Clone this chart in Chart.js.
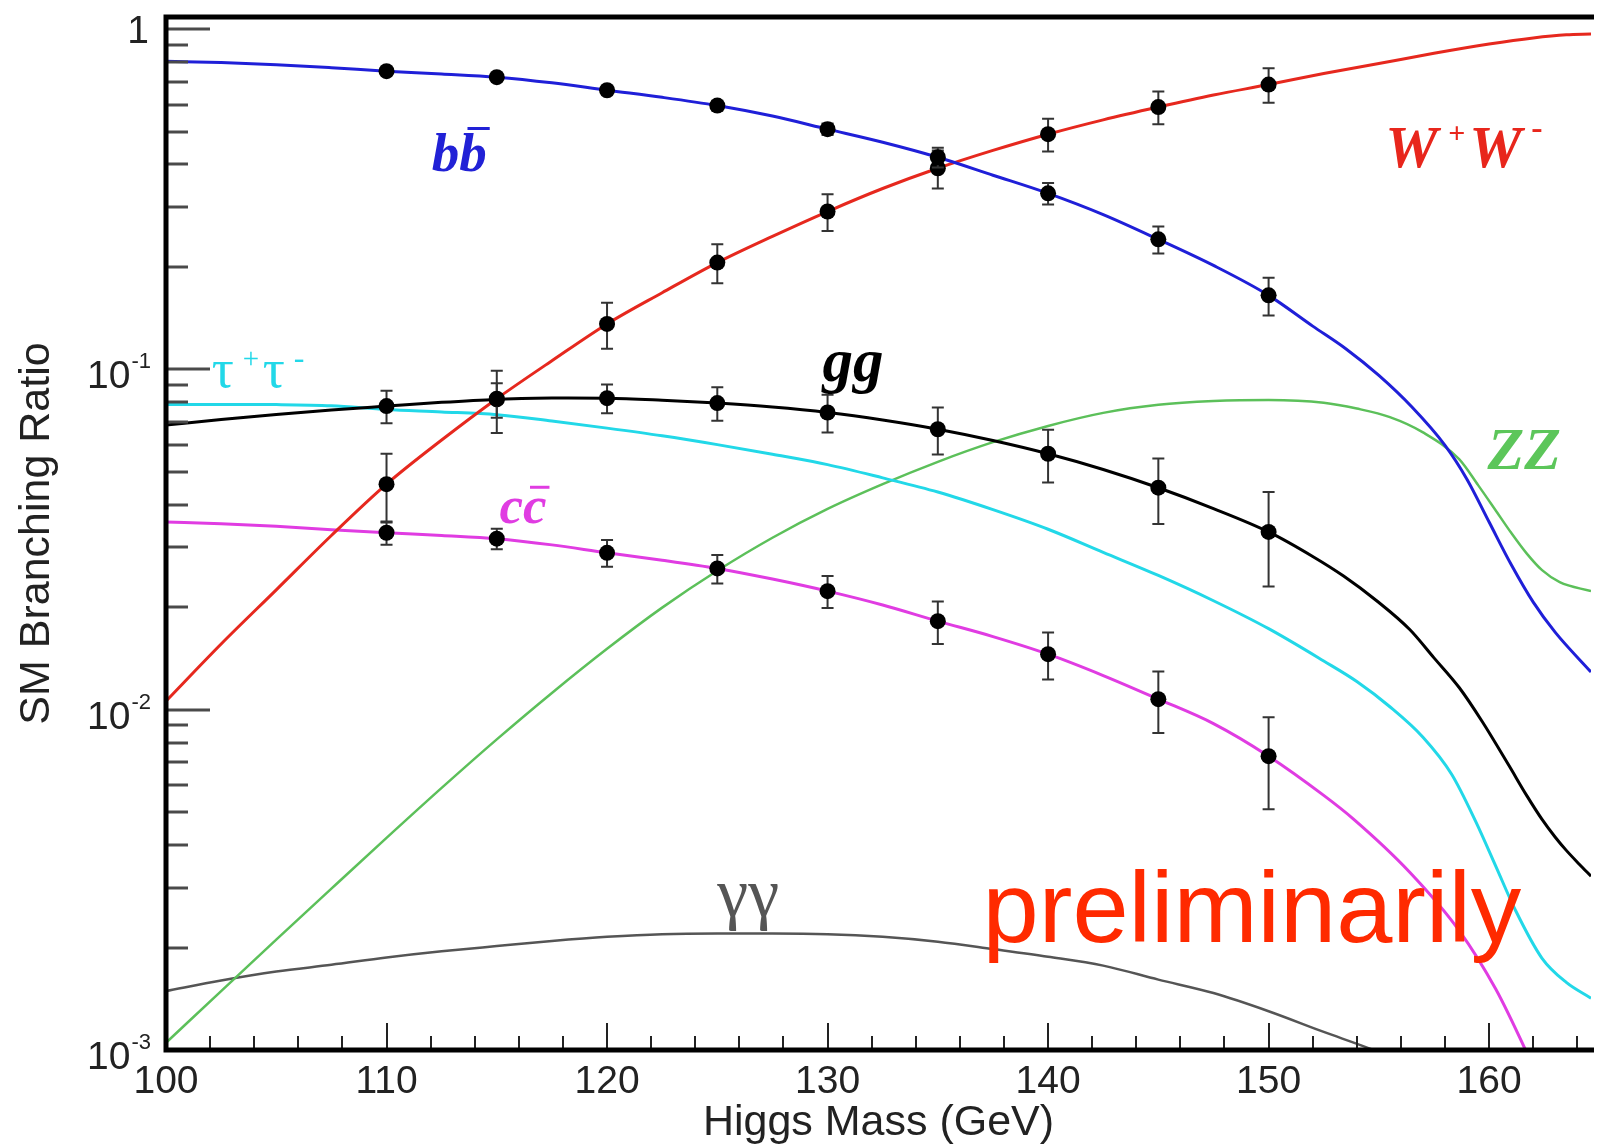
<!DOCTYPE html>
<html>
<head>
<meta charset="utf-8">
<script src="https://cdn.jsdelivr.net/npm/chart.js@4.4.1/dist/chart.umd.min.js"></script>
<style>
html,body{margin:0;padding:0;background:#fff;overflow:hidden;}
canvas{display:block;}
</style>
</head>
<body>
<canvas id="c" width="1599" height="1145"></canvas>
<script>
// ---------------- data ----------------
const xTickValues = [100, 110, 120, 130, 140, 150, 160];
const xTickLabels = ['100', '110', '120', '130', '140', '150', '160'];
const yTickValues = [1, 0.1, 0.01, 0.001];
const yTickBase   = ['1', '10', '10', '10'];
const yTickExp    = ['', '-1', '-2', '-3'];

// computed points with error bars
const pointMass = [110, 115, 120, 125, 130, 135, 140, 145, 150];
const bbPts  = [0.752, 0.722, 0.661, 0.596, 0.508, 0.420, 0.329, 0.241, 0.165];
const bbErr  = [0.015, 0.015, 0.018, 0.020, 0.020, 0.028, 0.024, 0.022, 0.021];
const wwPts  = [0.046, 0.082, 0.136, 0.206, 0.291, 0.390, 0.491, 0.590, 0.687];
const wwErr  = [0.0105, 0.017, 0.021, 0.027, 0.036, 0.050, 0.054, 0.065, 0.080];
const ggPts  = [0.078, 0.0816, 0.0823, 0.0796, 0.0747, 0.0667, 0.0565, 0.0449, 0.0333];
const ggErr  = [0.0085, 0.0095, 0.008, 0.009, 0.0095, 0.0105, 0.010, 0.0098, 0.0103];
const ccPts  = [0.0331, 0.0318, 0.0289, 0.026, 0.0223, 0.0182, 0.01456, 0.01074, 0.0073];
const ccErr  = [0.0026, 0.0022, 0.0026, 0.0025, 0.0024, 0.0026, 0.0023, 0.0022, 0.0022];

// theory curves
const bbMass = [100,102.5,105,107.5,110,112.5,115,117.5,120,122.5,125,127.5,130,132.5,135,137.5,140,142.5,145,147.5,150,152,153.5,155,156.5,158,159,160,161,162,163,164.62];
const bbBR   = [0.804,0.797,0.786,0.77,0.752,0.738,0.722,0.695,0.661,0.63,0.596,0.555,0.508,0.465,0.42,0.372,0.329,0.285,0.241,0.202,0.165,0.134,0.115,0.096,0.0775,0.0598,0.0475,0.0356,0.0267,0.0207,0.01687,0.0129];

const wwMass = [100,102.5,105,107.5,110,112.5,115,117.5,120,122.5,125,127.5,130,132.5,135,137.5,140,142.5,145,147.5,150,152.5,155,157.5,160,162,163.5,164.62];
const wwBR   = [0.0106,0.0156,0.0225,0.0325,0.046,0.062,0.082,0.106,0.136,0.168,0.206,0.246,0.291,0.34,0.39,0.44,0.491,0.541,0.590,0.64,0.687,0.74,0.792,0.849,0.904,0.942,0.962,0.967];

const ggMass = [100,102.5,105,107.5,110,112.5,115,117.5,120,122.5,125,127.5,130,132.5,135,137.5,140,142.5,145,147.5,150,152,153.4,154.9,156.4,157.5,158.65,159.7,160.9,161.7,162.4,163,163.5,164.1,164.62];
const ggBR   = [0.0686,0.0712,0.0737,0.076,0.078,0.08,0.0816,0.0824,0.0823,0.0812,0.0796,0.0775,0.0747,0.071,0.0667,0.0618,0.0565,0.0508,0.0449,0.039,0.0333,0.0282,0.0247,0.0209,0.0172,0.0142,0.0116,0.0092,0.00685,0.0056,0.00476,0.00422,0.00386,0.00351,0.00324];

const tauMass = [100,102.5,105,107.5,110,112.5,115,117.5,120,122.5,125,127.5,130,132.5,135,137.5,140,142.5,145,147.5,150,152.5,154,155.5,157,158.3,159.4,160.3,161.2,162.4,163.5,164.62];
const tauBR   = [0.0789,0.0789,0.0788,0.0782,0.0762,0.075,0.0736,0.0705,0.0672,0.0638,0.0601,0.0563,0.0525,0.048,0.0436,0.0387,0.0339,0.029,0.0248,0.0209,0.0173,0.0139,0.0121,0.0102,0.0083,0.00646,0.00468,0.00347,0.00257,0.00186,0.00158,0.00142];

const ccMass = [100,102.5,105,107.5,110,112.5,115,117.5,120,122.5,125,127.5,130,132.5,135,137.5,140,142.5,145,147.5,150,152.5,153.85,156.4,158.65,160.3,161.65,162.5];
const ccBR   = [0.0356,0.0352,0.0346,0.0338,0.0331,0.0325,0.0318,0.0305,0.0289,0.0275,0.026,0.0242,0.0223,0.0203,0.0182,0.0164,0.01456,0.0126,0.01074,0.0091,0.0073,0.0056,0.00477,0.00333,0.00224,0.00151,0.001,0.00075];

const zzMass = [100,102.5,105,107.5,110,112.5,115,117.5,120,122.5,125,127.5,130,132.5,135,137.5,140,142.5,145,147.5,150,152.5,154,155.5,157,158.65,159.5,160.3,161,161.7,162.4,163.2,164.62];
const zzBR   = [0.00105,0.00149,0.00211,0.00298,0.0042,0.00589,0.00818,0.0112,0.0151,0.01995,0.0256,0.032,0.0389,0.046,0.0535,0.0611,0.0682,0.0745,0.0787,0.0807,0.0813,0.0798,0.0767,0.0724,0.0653,0.0544,0.0457,0.0385,0.0331,0.0288,0.0257,0.0237,0.0223];

const gamMass = [100,102.5,105,107.5,110,112.5,115,117.5,120,122.5,125,127.5,130,132.5,135,137.5,140,142.5,145,147.5,150,152.5,154.75,156];
const gamBR   = [0.00149,0.0016,0.0017,0.00178,0.00187,0.00195,0.00202,0.00209,0.00215,0.00219,0.0022,0.0022,0.00219,0.00215,0.00208,0.00198,0.00188,0.00177,0.00161,0.00147,0.0013,0.00113,0.001,0.00092];

// ---------------- chart ----------------
const X_MIN = 100, X_MAX = 164.62, Y_MIN = 0.001, Y_MAX = 1.085;
const SANS = '"Liberation Sans", Arial, Helvetica, sans-serif';
const SERIF = '"Liberation Serif", "Times New Roman", serif';

const toXY = (xs, ys) => xs.map((x, i) => ({x: x, y: ys[i]}));
function curve(label, xs, ys, color, w) {
  return {label, data: toXY(xs, ys), showLine: true, borderColor: color, backgroundColor: color,
          borderWidth: w, pointRadius: 0, pointHoverRadius: 0, fill: false,
          cubicInterpolationMode: 'monotone'};
}
function markers(label, ys, errs) {
  return {label, data: toXY(pointMass, ys), errors: errs, showLine: false,
          pointRadius: 8, pointHoverRadius: 8, pointBackgroundColor: '#000',
          pointBorderColor: '#000', pointBorderWidth: 0};
}

// curve annotations (anchor in data coordinates: mass, BR at baseline)
const annotations = [
  {gev: 112.05, br: 0.384, color: '#2121d6', parts: [
    {t: 'b', font: 'italic bold 55px ' + SERIF},
    {t: 'b', font: 'italic bold 55px ' + SERIF, over: 42}]},
  {gev: 155.29, br: 0.392, color: '#e8261c', parts: [
    {t: 'W', font: 'italic bold 59px ' + SERIF, dx: 0},
    {t: '+', font: 'bold 30px ' + SERIF, dx: 63, dy: -24},
    {t: 'W', font: 'italic bold 59px ' + SERIF, dx: 84},
    {t: '-', font: 'bold 34px ' + SERIF, dx: 146, dy: -28}]},
  {gev: 102.07, br: 0.0886, color: '#22d8e8', parts: [
    {t: '\u03C4', font: '55px ' + SERIF, dx: 0},
    {t: '+', font: '29px ' + SERIF, dx: 31, dy: -19},
    {t: '\u03C4', font: '55px ' + SERIF, dx: 51},
    {t: '-', font: '32px ' + SERIF, dx: 82, dy: -19}]},
  {gev: 129.77, br: 0.0922, color: '#000000', parts: [
    {t: 'gg', font: 'italic bold 61px ' + SERIF}]},
  {gev: 115.12, br: 0.0353, color: '#e03ce2', parts: [
    {t: 'c', font: 'italic bold 53px ' + SERIF},
    {t: 'c', font: 'italic bold 53px ' + SERIF, over: 36}]},
  {gev: 159.93, br: 0.0509, color: '#5cc65a', parts: [
    {t: 'ZZ', font: 'italic bold 60px ' + SERIF}]},
  {gev: 125.0, br: 0.002475, color: '#555555', parts: [
    {t: '\u03B3\u03B3', font: '70px ' + SERIF}]},
  {gev: 137.03, br: 0.002076, color: '#ff2a00', parts: [
    {t: 'preliminarily', font: '101px ' + SANS}]}
];

const rootStyle = {
  id: 'rootStyle',
  beforeDatasetDraw(chart, args) {
    const ds = chart.data.datasets[args.index];
    if (!ds.errors) return;
    const {ctx} = chart; const xs = chart.scales.x, ys = chart.scales.y;
    ctx.save();
    ctx.strokeStyle = '#333'; ctx.lineWidth = 2;
    ds.data.forEach((p, i) => {
      const e = ds.errors[i];
      const px = xs.getPixelForValue(p.x);
      const y1 = ys.getPixelForValue(p.y + e), y2 = ys.getPixelForValue(p.y - e);
      ctx.beginPath();
      ctx.moveTo(px, y1); ctx.lineTo(px, y2);
      ctx.moveTo(px - 6, y1); ctx.lineTo(px + 6, y1);
      ctx.moveTo(px - 6, y2); ctx.lineTo(px + 6, y2);
      ctx.stroke();
    });
    ctx.restore();
  },
  afterDatasetsDraw(chart) {
    const {ctx, chartArea: a} = chart; const xs = chart.scales.x, ys = chart.scales.y;
    ctx.save();
    // y ticks (inside)
    ctx.strokeStyle = '#4a4a4a'; ctx.lineWidth = 3;
    for (let d = -3; d <= 0; d++) {
      for (let k = 1; k <= 9; k++) {
        const v = k * Math.pow(10, d);
        if (v < Y_MIN * 0.999 || v > Y_MAX) continue;
        const py = Math.round(ys.getPixelForValue(v));
        const len = k === 1 ? 44 : 22;
        ctx.beginPath(); ctx.moveTo(a.left, py); ctx.lineTo(a.left + len, py); ctx.stroke();
      }
    }
    // x ticks (inside)
    ctx.strokeStyle = '#222'; ctx.lineWidth = 2;
    for (let m = X_MIN; m <= X_MAX; m += 2) {
      const px = Math.round(xs.getPixelForValue(m));
      const len = (m % 10 === 0) ? 27 : 14;
      ctx.beginPath(); ctx.moveTo(px, a.bottom); ctx.lineTo(px, a.bottom - len); ctx.stroke();
    }
    // frame
    ctx.strokeStyle = '#000'; ctx.lineWidth = 5;
    ctx.beginPath();
    ctx.moveTo(a.right + 3, a.top); ctx.lineTo(a.left, a.top); ctx.lineTo(a.left, a.bottom); ctx.lineTo(a.right + 3, a.bottom);
    ctx.stroke();
    // x tick labels
    ctx.fillStyle = '#222'; ctx.font = '39px ' + SANS; ctx.textAlign = 'center'; ctx.textBaseline = 'alphabetic';
    xTickValues.forEach((v, i) => {
      ctx.fillText(xTickLabels[i], xs.getPixelForValue(v), a.bottom + 43);
    });
    // y tick labels
    ctx.textAlign = 'right';
    yTickValues.forEach((v, i) => {
      const py = ys.getPixelForValue(v);
      if (!yTickExp[i]) {
        ctx.font = '39px ' + SANS;
        ctx.fillText(yTickBase[i], 149, py + 14);
      } else {
        ctx.font = '22px ' + SANS;
        const ew = ctx.measureText(yTickExp[i]).width;
        ctx.fillText(yTickExp[i], 151, py - 1);
        ctx.font = '39px ' + SANS;
        ctx.fillText(yTickBase[i], 151 - ew - 1, py + 19);
      }
    });
    // annotations
    ctx.textAlign = 'left';
    annotations.forEach(an => {
      const x0 = xs.getPixelForValue(an.gev), y0 = ys.getPixelForValue(an.br);
      let cur = x0;
      ctx.fillStyle = an.color; ctx.strokeStyle = an.color;
      an.parts.forEach(p => {
        ctx.font = p.font;
        const px = (p.dx !== undefined) ? x0 + p.dx : cur;
        const py = y0 + (p.dy || 0);
        ctx.fillText(p.t, px, py);
        const w = ctx.measureText(p.t).width;
        if (p.over) {
          ctx.lineWidth = 3;
          ctx.beginPath(); ctx.moveTo(px + 0.3 * w, py - p.over); ctx.lineTo(px + w + 3, py - p.over); ctx.stroke();
        }
        cur = px + w;
      });
    });
    ctx.restore();
  }
};

new Chart(document.getElementById('c'), {
  type: 'scatter',
  data: {
    datasets: [
      markers('bb points', bbPts, bbErr),
      markers('WW points', wwPts, wwErr),
      markers('gg points', ggPts, ggErr),
      markers('cc points', ccPts, ccErr),
      curve('b b\u0304', bbMass, bbBR, '#1f1fd8', 3),
      curve('W+W-', wwMass, wwBR, '#e6281e', 3),
      curve('gg', ggMass, ggBR, '#000000', 3),
      curve('\u03C4+\u03C4-', tauMass, tauBR, '#22d8e8', 3),
      curve('c c\u0304', ccMass, ccBR, '#e03ce2', 3),
      curve('ZZ', zzMass, zzBR, '#5cc05a', 2.5),
      curve('\u03B3\u03B3', gamMass, gamBR, '#555555', 2.5)
    ]
  },
  options: {
    responsive: false,
    animation: false,
    events: [],
    layout: {padding: {top: 17, right: 0, left: 0, bottom: 0}},
    plugins: {legend: {display: false}, tooltip: {enabled: false}},
    scales: {
      x: {
        type: 'linear', min: X_MIN, max: X_MAX,
        grid: {display: false}, border: {display: false},
        ticks: {display: false},
        title: {display: true, text: 'Higgs Mass (GeV)', color: '#222',
                font: {family: SANS, size: 43, lineHeight: 1}, padding: {top: 0, bottom: 0}},
        afterFit: s => { s.height = 95; }
      },
      y: {
        type: 'logarithmic', min: Y_MIN, max: Y_MAX,
        grid: {display: false}, border: {display: false},
        ticks: {display: false},
        title: {display: true, text: 'SM Branching Ratio', color: '#222',
                font: {family: SANS, size: 43, lineHeight: 1}, padding: {top: 16, bottom: 0}},
        afterFit: s => { s.width = 166; }
      }
    }
  },
  plugins: [rootStyle]
});
</script>
</body>
</html>
